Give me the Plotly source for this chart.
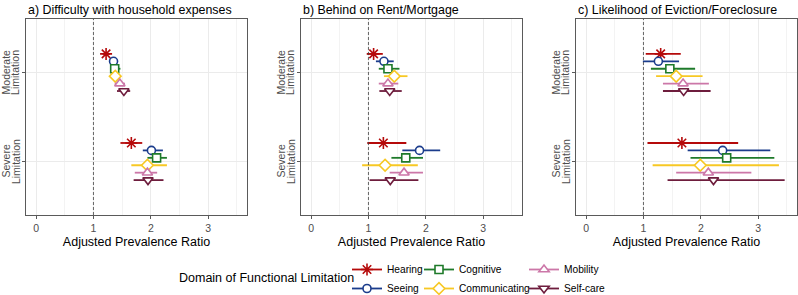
import plotly.graph_objects as go

# ---------------- data ----------------
domains = ["Hearing", "Seeing", "Cognitive", "Communicating", "Mobility", "Self-care"]
levels = [["Moderate", "Limitation"], ["Severe", "Limitation"]]
panel_titles = ["a) Difficulty with household expenses",
                "b) Behind on Rent/Mortgage",
                "c) Likelihood of Eviction/Foreclosure"]
x_ticks = [0, 1, 2, 3]
ref_value = 1

# panel a: Difficulty with household expenses
a_mod_est = [1.22, 1.35, 1.37, 1.38, 1.46, 1.53]
a_mod_lo = [1.16, 1.29, 1.30, 1.32, 1.37, 1.41]
a_mod_hi = [1.29, 1.42, 1.47, 1.45, 1.55, 1.64]
a_sev_est = [1.66, 2.01, 2.10, 1.94, 1.94, 1.95]
a_sev_lo = [1.47, 1.86, 1.94, 1.66, 1.72, 1.70]
a_sev_hi = [1.85, 2.21, 2.28, 2.28, 2.11, 2.22]

# panel b: Behind on Rent/Mortgage
b_mod_est = [1.09, 1.27, 1.34, 1.45, 1.34, 1.37]
b_mod_lo = [0.97, 1.13, 1.18, 1.27, 1.18, 1.19]
b_mod_hi = [1.25, 1.44, 1.54, 1.68, 1.52, 1.58]
b_sev_est = [1.26, 1.89, 1.65, 1.29, 1.62, 1.38]
b_sev_lo = [0.98, 1.59, 1.40, 0.89, 1.37, 1.02]
b_sev_hi = [1.66, 2.25, 1.95, 1.86, 1.95, 1.87]

# panel c: Likelihood of Eviction/Foreclosure
c_mod_est = [1.30, 1.26, 1.46, 1.57, 1.69, 1.70]
c_mod_lo = [1.04, 0.99, 1.13, 1.22, 1.34, 1.34]
c_mod_hi = [1.65, 1.62, 1.90, 2.03, 2.14, 2.17]
c_sev_est = [1.67, 2.38, 2.45, 1.99, 2.13, 2.22]
c_sev_lo = [1.07, 1.77, 1.82, 1.16, 1.57, 1.42]
c_sev_hi = [2.65, 3.21, 3.28, 3.36, 2.88, 3.46]

panels = [
    (a_mod_est, a_mod_lo, a_mod_hi, a_sev_est, a_sev_lo, a_sev_hi),
    (b_mod_est, b_mod_lo, b_mod_hi, b_sev_est, b_sev_lo, b_sev_hi),
    (c_mod_est, c_mod_lo, c_mod_hi, c_sev_est, c_sev_lo, c_sev_hi),
]

# ---------------- style ----------------
colors = ["#B50A0A", "#1B3C8C", "#1E7A2A", "#F7C824", "#CC77A8", "#6E1D3D"]
symbols = ["asterisk-open", "circle", "square", "diamond", "triangle-up", "triangle-down"]
sizes = [10, 8, 8, 9, 9, 9]

W, H = 798, 295
x_dom_px = [(26, 247), (301, 522), (576, 797)]
y_top_px, y_bot_px = 19, 215
ydom = [1 - y_bot_px / H, 1 - y_top_px / H]
dodge = 0.5
ypos_level = [2, 1]  # moderate on top
label_line_off = [-20, -10.5]

font_fam = "Liberation Sans, Arial, sans-serif"
fig = go.Figure()

for p, (me, ml, mh, se, sl, sh) in enumerate(panels):
    xa = "x" if p == 0 else f"x{p+1}"
    ya = "y" if p == 0 else f"y{p+1}"
    for i, d in enumerate(domains):
        off = (2.5 - i) * dodge / 6
        est = [me[i], se[i]]
        lo = [ml[i], sl[i]]
        hi = [mh[i], sh[i]]
        ys = [ypos_level[0] + off, ypos_level[1] + off]
        is_star = symbols[i].startswith("asterisk")
        fig.add_trace(go.Scatter(
            x=est, y=ys, xaxis=xa, yaxis=ya, mode="markers",
            showlegend=False,
            error_x=dict(type="data", symmetric=False,
                         array=[h - e for h, e in zip(hi, est)],
                         arrayminus=[e - l for e, l in zip(est, lo)],
                         color=colors[i], thickness=1.8, width=0),
            marker=dict(symbol=symbols[i], size=sizes[i],
                        color=colors[i] if is_star else "white",
                        line=dict(color=colors[i], width=1.6)),
            hoverinfo="skip",
        ))

# legend-only traces, three columns
leg_cols = ["legend", "legend", "legend2", "legend2", "legend3", "legend3"]
for i, d in enumerate(domains):
    is_star = symbols[i].startswith("asterisk")
    fig.add_trace(go.Scatter(
        x=[None], y=[None], mode="lines+markers", name=d,
        legend=leg_cols[i],
        line=dict(color=colors[i], width=1.8),
        marker=dict(symbol=symbols[i], size=sizes[i],
                    color=colors[i] if is_star else "white",
                    line=dict(color=colors[i], width=1.6)),
    ))

axis_common = dict(showline=True, mirror=True, linecolor="#5A5A5A", linewidth=1,
                   ticks="outside", ticklen=3, tickcolor="#5A5A5A",
                   gridcolor="#EBEBEB", gridwidth=1, zeroline=False, automargin=False)

layout = dict(width=W, height=H, margin=dict(l=0, r=0, t=0, b=0, autoexpand=False),
              plot_bgcolor="white", paper_bgcolor="white",
              font=dict(family=font_fam, color="#000000"))
annotations = []
shapes = []
for p in range(3):
    sx = "" if p == 0 else str(p + 1)
    x0, x1 = x_dom_px[p]
    layout["xaxis" + sx] = dict(
        domain=[x0 / W, x1 / W], anchor="y" + sx, range=[-0.175, 3.675],
        tickvals=x_ticks, ticktext=[str(t) for t in x_ticks],
        tickfont=dict(size=10.5, color="#4D4D4D"),
        minor=dict(dtick=0.5, showgrid=True, gridcolor="#F3F3F3", gridwidth=1, ticks=""),
        title=dict(text="Adjusted Prevalence Ratio", font=dict(size=12.5, color="#000"), standoff=4),
        **axis_common)
    layout["yaxis" + sx] = dict(
        domain=ydom, anchor="x" + sx, range=[0.4, 2.6],
        tickvals=ypos_level, showticklabels=False, **axis_common)
    annotations.append(dict(text=panel_titles[p], xref="paper", yref="paper",
                            x=x0 / W, y=1 - 10 / H, xanchor="left", yanchor="middle",
                            showarrow=False, font=dict(size=12.4, color="#000")))
    for lv, yl in zip(levels, ypos_level):
        for line_txt, dx in zip(lv, label_line_off):
            annotations.append(dict(text=line_txt, xref="paper", yref="y" + sx,
                                    x=(x0 + dx) / W, y=yl, xanchor="center", yanchor="middle",
                                    textangle=-90, showarrow=False,
                                    font=dict(size=10.5, color="#4D4D4D")))
    shapes.append(dict(type="line", xref="x" + sx, yref="y" + sx + " domain",
                       x0=ref_value, x1=ref_value, y0=0, y1=1,
                       line=dict(color="#404040", width=0.8, dash="3px,2px")))

annotations.append(dict(text="Domain of Functional Limitation", xref="paper", yref="paper",
                        x=266 / W, y=1 - 278 / H, xanchor="center", yanchor="middle",
                        showarrow=False, font=dict(size=12.5, color="#000")))
layout["annotations"] = annotations
layout["shapes"] = shapes

leg_common = dict(orientation="v", yanchor="top", xanchor="left",
                  font=dict(size=10.2, color="#000"), bgcolor="rgba(0,0,0,0)",
                  tracegroupgap=0, itemwidth=30)
layout["legend"] = dict(x=347 / W, y=1 - 255 / H, **leg_common)
layout["legend2"] = dict(x=419 / W, y=1 - 255 / H, **leg_common)
layout["legend3"] = dict(x=524 / W, y=1 - 255 / H, **leg_common)

fig.update_layout(**layout)
fig.write_html("out.html", config={"displayModeBar": False},
               post_script="document.body.style.margin='0px';document.body.style.padding='0px';")
